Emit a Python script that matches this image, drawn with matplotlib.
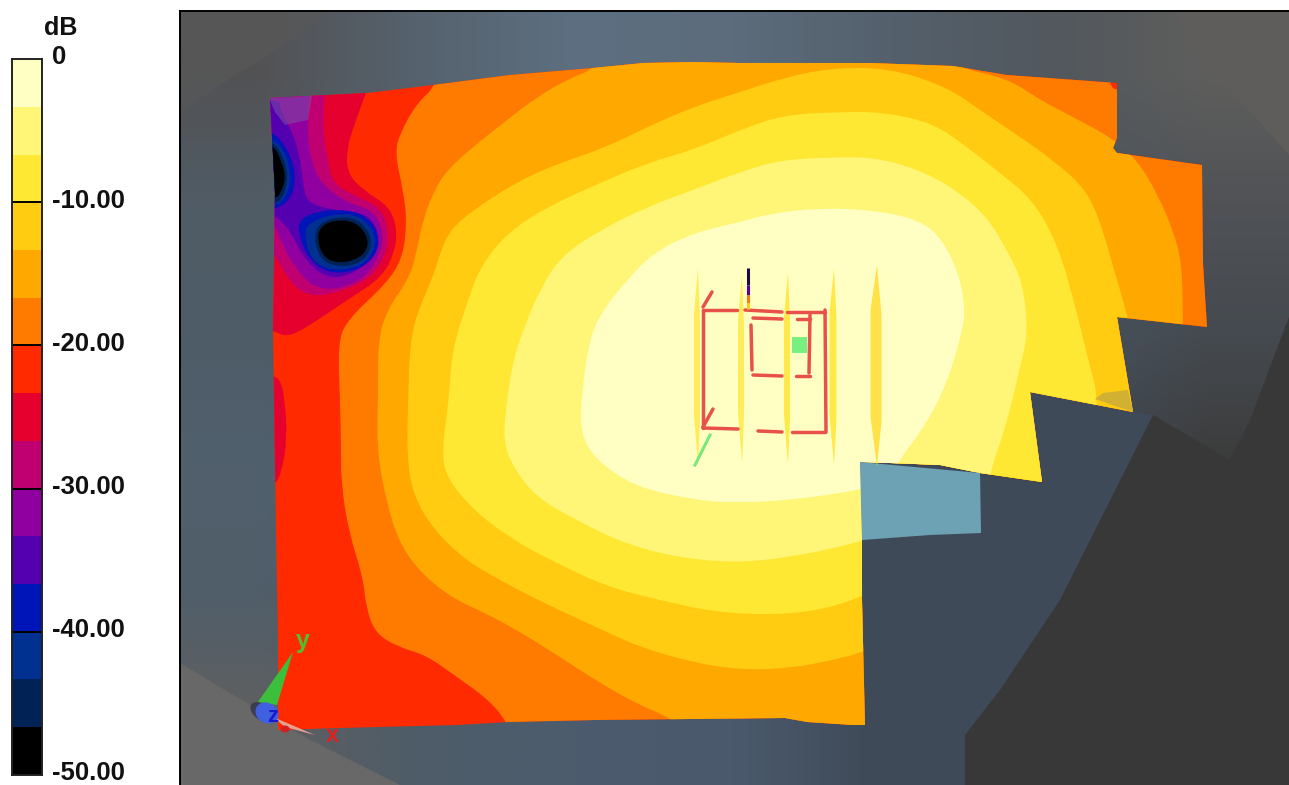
import numpy as np
import matplotlib
matplotlib.use("Agg")
import matplotlib.pyplot as plt
from matplotlib.colors import to_rgb
from matplotlib.patches import Ellipse, Polygon, PathPatch
from matplotlib.path import Path
from matplotlib.transforms import ScaledTranslation

plt.rcParams["font.family"] = ["Liberation Sans", "DejaVu Sans"]

W, H = 1289, 785

# colour scale
scale_top = [0, -3.33, -6.67, -10, -13.33, -16.67, -20, -23.33, -26.67, -30, -33.33, -36.67, -40, -43.33, -46.67]
scale_bottom = [-3.33, -6.67, -10, -13.33, -16.67, -20, -23.33, -26.67, -30, -33.33, -36.67, -40, -43.33, -46.67, -50]
scale_colors = ["#FFFFC4", "#FFF678", "#FFE833", "#FFCC11", "#FFA800", "#FF7B00", "#FF2A00", "#E6002E",
                "#C00070", "#9000A0", "#5500B0", "#0015B8", "#003090", "#002255", "#000000"]
scale_ticks = [0, -10, -20, -30, -40, -50]
scale_labels = ["0", "-10.00", "-20.00", "-30.00", "-40.00", "-50.00"]

# background colours, read on a coarse grid
bg_colors = [
    ["#525254", "#56626E", "#5D6F80", "#5C6C7C", "#54606C", "#52585E", "#5E5E5C"],
    ["#505C66", "#4E5C68", "#4E5E6E", "#4E5E6E", "#4E5A66", "#4C5660", "#505256"],
    ["#4E5C68", "#4E5C68", "#4E5C68", "#4A5866", "#46525E", "#46525E", "#454A50"],
    ["#50606C", "#4E5C68", "#4C5A68", "#465464", "#3E4856", "#3F4854", "#3C3C3C"],
    ["#505E6A", "#4E5C68", "#4C5A68", "#465464", "#404A58", "#3A3E44", "#363636"],
    ["#606060", "#4E5C68", "#4C5C6E", "#4A5A6C", "#3E4856", "#303032", "#2E2E2E"],
]

# measured floor outline
floor_x = [270, 367, 433, 510, 593, 643, 693, 740, 870, 953, 1007, 1117, 1117, 1113, 1117, 1202, 1203, 1207, 1117,
           1133, 1030, 1042, 980, 940, 890, 860, 862, 862, 865, 853, 807, 785, 596, 509, 457, 339, 278, 278, 276, 274, 273, 275]
floor_y = [98, 93, 85, 75, 68, 63, 62, 63, 63, 66, 75, 83, 138, 148, 153, 165, 263, 327, 317,
           412, 392, 482, 473, 465, 463, 462, 537, 600, 725, 725, 722, 718, 720, 722, 725, 728, 730, 640, 533, 400, 330, 193]

# dB contours, each one closed around the side that is above the level
c20_x = [507, 489, 457, 426, 398, 375, 366, 363, 349, 341, 341, 340, 338, 347, 387, 403, 407, 403, 395, 400, 417, 437, 445,
         1108, 1108, 1118, 1289, 1289, 515]
c20_y = [722, 700, 677, 655, 647, 633, 607, 577, 533, 483, 440, 400, 343, 320, 283, 257, 220, 190, 153, 133, 103, 85, 40,
         40, 83, 93, 93, 760, 745]

c17_x = [669, 639, 600, 560, 517, 485, 450, 418, 398, 386, 377, 378, 378, 387, 410, 417, 423, 433, 447, 473, 507, 537, 570, 597,
         597, 953, 953, 1007, 1040, 1073, 1112, 1137, 1157, 1173, 1182, 1183, 1183, 900, 690]
c17_y = [717, 705, 683, 657, 630, 613, 597, 570, 540, 500, 450, 400, 340, 310, 277, 250, 220, 193, 170, 147, 120, 97, 78, 68,
         40, 40, 67, 78, 100, 117, 138, 160, 193, 230, 263, 323, 500, 760, 735]

c13_x = [864, 833, 793, 742, 695, 639, 596, 544, 505, 465, 434, 414, 407, 408, 410, 417, 433, 440, 450, 473, 520, 560, 607, 647, 693, 740, 783,
         830, 890, 947, 980, 1020, 1053, 1087, 1103, 1113, 1127, 1160, 905]
c13_y = [652, 660, 668, 670, 663, 647, 627, 603, 583, 560, 530, 497, 460, 400, 343, 313, 277, 253, 230, 210, 180, 163, 147, 127, 107, 92, 78,
         68, 68, 87, 110, 137, 160, 190, 230, 267, 313, 450, 632]

c10_x = [862, 821, 773, 714, 659, 608, 556, 513, 473, 446, 442, 449, 452, 467, 480, 507, 547, 600, 647, 693, 740, 783, 837,
         883, 933, 967, 1000, 1033, 1057, 1073, 1090, 1097, 1097, 1060, 905]
c10_y = [597, 610, 615, 612, 600, 587, 563, 540, 510, 477, 450, 400, 350, 303, 267, 233, 207, 183, 163, 150, 130, 115, 112,
         112, 123, 147, 173, 200, 243, 297, 367, 392, 440, 520, 575]

c7_x = [860, 793, 734, 675, 623, 576, 536, 513, 503, 507, 513, 527, 540, 560, 600, 647, 693, 740, 780, 837, 880, 927, 960, 987, 1007,
        1023, 1028, 1020, 1007, 990, 985, 905]
c7_y = [542, 557, 563, 557, 543, 520, 497, 467, 440, 400, 360, 320, 290, 257, 230, 207, 190, 172, 160, 157, 158, 173, 193, 217, 250,
        283, 333, 367, 423, 472, 500, 528]

c3_x = [860, 793, 734, 695, 635, 596, 580, 582, 590, 603, 627, 653, 693, 740, 773, 820, 873, 920, 943, 960, 965, 962, 947, 927, 897, 890]
c3_y = [490, 500, 503, 500, 487, 460, 433, 390, 337, 310, 280, 253, 233, 222, 213, 208, 210, 220, 240, 277, 310, 333, 383, 423, 463, 482]

# low pockets in the corner, each one closed around the side below the level
low23_x = [367, 357, 347, 347, 363, 390, 397, 395, 383, 347, 303, 285, 273, 250, 250, 367]
low23_y = [90, 117, 147, 173, 190, 207, 230, 250, 277, 300, 330, 337, 330, 330, 90, 90]
low23b_x = [268, 280, 285, 287, 282, 276, 268]
low23b_y = [375, 378, 400, 440, 470, 484, 484]
low27_x = [325, 323, 328, 332, 357, 380, 388, 388, 373, 340, 310, 290, 273, 250, 250, 325]
low27_y = [90, 133, 160, 183, 197, 207, 227, 250, 277, 292, 297, 283, 250, 250, 90, 90]
low30_x = [310, 307, 310, 320, 347, 373, 383, 382, 367, 337, 313, 297, 283, 273, 250, 250, 310]
low30_y = [90, 123, 157, 183, 203, 210, 230, 250, 277, 290, 287, 270, 247, 220, 220, 90, 90]
low33_x = [280, 293, 300, 303, 307, 333, 367, 380, 373, 347, 323, 303, 290, 273, 250, 250, 280]
low33_y = [110, 133, 157, 183, 203, 210, 213, 233, 260, 277, 277, 257, 230, 213, 213, 100, 100]
low37a_x = [272, 285, 296, 293, 277, 250, 250]
low37a_y = [131, 145, 170, 196, 210, 210, 131]
low37b_x = [299, 327, 362, 380, 376, 354, 326, 307, 299]
low37b_y = [218, 209, 212, 233, 257, 272, 273, 256, 235]
low40a_x = [272, 284, 291, 288, 277, 250, 250]
low40a_y = [138, 150, 172, 194, 206, 206, 138]
low40b_x = [307, 331, 360, 377, 371, 349, 325, 310, 305]
low40b_y = [224, 214, 215, 236, 259, 270, 269, 258, 236]
low43a_x = [273, 283, 288, 284, 276, 250, 250]
low43a_y = [141, 156, 176, 196, 204, 204, 141]
low43b_x = [313, 333, 358, 373, 367, 345, 319]
low43b_y = [228, 217, 218, 238, 259, 268, 261]
low47a_x = [273, 281, 286, 281, 275, 250, 250]
low47a_y = [144, 160, 177, 193, 199, 199, 144]
low47b_x = [316, 330, 356, 370, 363, 340, 322]
low47b_y = [232, 220, 221, 240, 257, 264, 257]

# antenna wires
wire_x1 = [703, 703, 745, 787, 825, 703, 758, 792, 753, 797, 751, 753, 796, 810, 703, 703]
wire_y1 = [310, 310, 310, 312, 310, 428, 431, 432, 318, 319, 325, 375, 376, 315, 307, 427]
wire_x2 = [703, 737, 782, 825, 826, 738, 782, 825, 782, 810, 752, 782, 810, 809, 712, 713]
wire_y2 = [428, 310, 312, 312, 432, 429, 432, 432, 319, 319, 370, 376, 376, 373, 292, 409]

streak_x = [697, 741, 787, 833, 876]
streak_top = [268, 275, 272, 268, 265]
streak_bottom = [465, 463, 465, 465, 467]
streak_width = [6, 6, 6, 7, 11]
streak_colors = ["#FFE94A", "#FFE94A", "#FFE633", "#FFE633", "#FFDD33"]

spike_top = [268, 285, 295, 303]
spike_bottom = [285, 295, 303, 309]
spike_colors = ["#1A0A40", "#5A0090", "#FF7A00", "#FFCC11"]


def smooth_path(xs, ys):
    pts = np.column_stack([xs, ys]).astype(float)
    mids = (pts + np.roll(pts, -1, axis=0)) / 2
    verts = [mids[-1]]
    codes = [Path.MOVETO]
    for p, m in zip(pts, mids):
        verts += [p, m]
        codes += [Path.CURVE3, Path.CURVE3]
    return Path(verts, codes)


fig = plt.figure(figsize=(W / 100, H / 100), dpi=100, facecolor="white")
ax = fig.add_axes([0, 0, 1, 1])

bg = np.array([[to_rgb(c) for c in row] for row in bg_colors])
ax.imshow(bg, extent=(180, W, H, 12), aspect="auto", interpolation="bilinear", zorder=0)

# surfaces behind the floor
ax.add_patch(Polygon([(180, 12), (325, 12), (290, 42), (240, 72), (180, 112)], fc="#585858", ec="none", alpha=0.7, zorder=1))
ax.add_patch(Polygon([(1175, 12), (W, 12), (W, 155), (1240, 100), (1195, 60)], fc="#5E5D5B", ec="none", zorder=1))
ax.add_patch(Polygon([(180, 663), (250, 705), (310, 740), (400, H), (180, H)], fc="#686868", ec="none", zorder=1))
ax.add_patch(Polygon([(866, 462), (1043, 483), (1030, 392), (1134, 412), (1153, 415), (1150, 560), (1000, H), (860, H)],
                     fc="#3F4A58", ec="none", zorder=1))
ax.add_patch(Polygon([(1153, 415), (1230, 460), (1250, 420), (W, 317), (W, H), (965, H), (965, 735), (1000, 690), (1060, 600)],
                     fc="#383838", ec="none", zorder=1))

floor = Polygon(np.column_stack([floor_x, floor_y]), closed=True, fc="#FF2A00", ec="none", zorder=2)
ax.add_patch(floor)

bands = [
    (low23_x, low23_y, "#E6002E"), (low23b_x, low23b_y, "#E6002E"), (low27_x, low27_y, "#C00070"),
    (low30_x, low30_y, "#9000A0"), (low33_x, low33_y, "#5500B0"),
    (low37a_x, low37a_y, "#0015B8"), (low37b_x, low37b_y, "#0015B8"),
    (low40a_x, low40a_y, "#003090"), (low40b_x, low40b_y, "#003090"),
    (low43a_x, low43a_y, "#002255"), (low43b_x, low43b_y, "#002255"),
    (low47a_x, low47a_y, "#000000"), (low47b_x, low47b_y, "#000000"),
    (c20_x, c20_y, "#FF7B00"), (c17_x, c17_y, "#FFA800"), (c13_x, c13_y, "#FFCC11"),
    (c10_x, c10_y, "#FFE833"), (c7_x, c7_y, "#FFF678"), (c3_x, c3_y, "#FFFFC4"),
]
for i, (xs, ys, col) in enumerate(bands):
    p = PathPatch(smooth_path(xs, ys), fc=col, ec="none", zorder=3 + i * 0.01)
    ax.add_patch(p)
    p.set_clip_path(floor)

# muted corner of the floor
corner = Polygon([(268, 96), (312, 96), (308, 120), (285, 125), (275, 112)], fc="#8050A0", ec="none", alpha=0.55, zorder=3.5)
ax.add_patch(corner)
corner.set_clip_path(floor)

# the patches sitting on the floor
ax.add_patch(Polygon([(860, 462), (980, 473), (981, 533), (930, 535), (862, 540)], fc="#6CA2B4", ec="none", zorder=4))
ax.add_patch(Polygon([(1095, 399), (1103, 393), (1128, 390), (1133, 412)], fc="#D2B032", ec="none", zorder=4))

# yellow plates
for x, t, b, w, col in zip(streak_x, streak_top, streak_bottom, streak_width, streak_colors):
    ax.add_patch(Polygon([(x + 1, t), (x + w / 2, t + 50), (x + w / 2, b - 45), (x + 1, b), (x - w / 2, b - 50), (x - w / 2, t + 45)],
                         fc=col, ec="none", alpha=0.85, zorder=5))

for x1, y1, x2, y2 in zip(wire_x1, wire_y1, wire_x2, wire_y2):
    ax.plot([x1, x2], [y1, y2], color="#E8504A", lw=2.5, solid_capstyle="round", zorder=6)
for t, b, col in zip(spike_top, spike_bottom, spike_colors):
    ax.plot([748, 748], [t, b], color=col, lw=2.2, solid_capstyle="butt", zorder=6)
ax.plot([695, 710], [465, 435], color="#78E878", lw=2.2, zorder=6)
ax.add_patch(Polygon([(792, 337), (807, 337), (807, 353), (792, 353)], fc="#78F080", ec="none", zorder=6))

# axis triad
ax.add_patch(Ellipse((262, 712), 26, 16, angle=35, fc="#3C3C50", ec="none", zorder=7))
ax.add_patch(Polygon([(293, 652), (258, 702), (277, 705)], fc="#3CC03C", ec="none", zorder=7))
ax.add_patch(Polygon([(273, 717), (285, 727), (315, 735)], fc="#E8A090", ec="none", zorder=7))
ax.add_patch(Ellipse((267, 713), 24, 20, angle=30, fc="#4060E0", ec="none", zorder=8))
ax.add_patch(Ellipse((285, 729), 9, 7, fc="#D02020", ec="none", zorder=7))
ax.text(303, 641, "y", color="#50C030", fontsize=18, fontweight="bold", ha="center", va="center", zorder=9)
ax.text(273, 716, "z", color="#1818D0", fontsize=16, fontweight="bold", ha="center", va="center", zorder=9)
ax.text(332, 736, "x", color="#E02020", fontsize=17, fontweight="bold", ha="center", va="center", zorder=9)

ax.plot([180, 180], [11, H], color="black", lw=1.4, zorder=10)
ax.plot([180, W], [11, 11], color="black", lw=1.4, zorder=10)
ax.set_xlim(0, W)
ax.set_ylim(H, 0)
ax.axis("off")

# colour bar
cax = fig.add_axes([12 / W, 1 - 775 / H, 30 / W, (775 - 59) / H])
cax.bar([0] * 15, np.array(scale_top) - np.array(scale_bottom), bottom=scale_bottom, width=1, color=scale_colors)
cax.hlines(scale_ticks[1:-1], -0.5, 0.5, color="black", lw=1.4)
cax.set_xlim(-0.5, 0.5)
cax.set_ylim(-50, 0)
cax.set_xticks([])
cax.yaxis.tick_right()
cax.set_yticks(scale_ticks)
cax.set_yticklabels(scale_labels, fontsize=18.5, fontweight="bold", color="#111111")
cax.tick_params(axis="y", length=0, pad=7)
shift = ScaledTranslation(0, 3 / 72, fig.dpi_scale_trans)
for lab in cax.get_yticklabels():
    lab.set_transform(lab.get_transform() + shift)
for s in cax.spines.values():
    s.set_linewidth(1.4)
    s.set_color("#222222")
fig.text(61 / W, 1 - 28 / H, "dB", fontsize=18, fontweight="bold", color="#111111", ha="center", va="center")

fig.savefig("out.png", dpi=100)
